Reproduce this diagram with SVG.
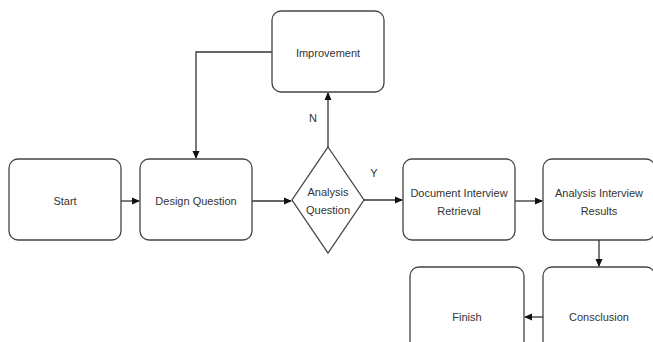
<svg xmlns="http://www.w3.org/2000/svg" width="653" height="342" viewBox="0 0 653 342">
<style>
.box{fill:#fff;stroke:#444;stroke-width:1.3}
.t{font-family:"Liberation Sans",Arial,sans-serif;font-size:11px;fill:#333;text-anchor:middle;dominant-baseline:central}
.c{fill:none;stroke:#333;stroke-width:1.3}
</style>
<defs>
<marker id="a" markerWidth="8" markerHeight="8" refX="7" refY="4" orient="auto" markerUnits="userSpaceOnUse">
<path d="M0,0.5 L8,4 L0,7.5 Z" fill="#111"/>
</marker>
</defs>
<rect width="653" height="342" fill="#fff"/>
<g id="connectors">
<path class="c" d="M121,201 H139" marker-end="url(#a)"/>
<path class="c" d="M252,201 H291" marker-end="url(#a)"/>
<path class="c" d="M328,147 V93" marker-end="url(#a)"/>
<path class="c" d="M272,52 H196 V158" marker-end="url(#a)"/>
<path class="c" d="M364,200 H402" marker-end="url(#a)"/>
<path class="c" d="M515,201 H542" marker-end="url(#a)"/>
<path class="c" d="M599,240 V266" marker-end="url(#a)"/>
<path class="c" d="M543,317 H525" marker-end="url(#a)"/>
<text class="t" x="313" y="118" font-size="12">N</text>
<text class="t" x="374" y="173" font-size="12">Y</text>
</g>
<g id="start"><rect class="box" x="9" y="159" width="112" height="81" rx="9"/><text class="t" x="65" y="201">Start</text></g>
<g id="design"><rect class="box" x="140" y="159" width="112" height="81" rx="9"/><text class="t" x="196" y="201">Design Question</text></g>
<g id="analysis"><path class="box" d="M328,147 L364,200 L328,253 L292,200 Z"/><text class="t" x="328" y="192">Analysis</text><text class="t" x="328" y="210">Question</text></g>
<g id="improvement"><rect class="box" x="272" y="11" width="112" height="81" rx="9"/><text class="t" x="328" y="53">Improvement</text></g>
<g id="document"><rect class="box" x="403" y="159" width="112" height="81" rx="9"/><text class="t" x="459" y="193">Document Interview</text><text class="t" x="459" y="211">Retrieval</text></g>
<g id="results"><rect class="box" x="543" y="159" width="112" height="81" rx="9"/><text class="t" x="599" y="193">Analysis Interview</text><text class="t" x="599" y="211">Results</text></g>
<g id="conclusion"><rect class="box" x="543" y="267" width="112" height="90" rx="9"/><text class="t" x="599" y="317">Consclusion</text></g>
<g id="finish"><rect class="box" x="410" y="267" width="114" height="90" rx="9"/><text class="t" x="467" y="317">Finish</text></g>
</svg>
